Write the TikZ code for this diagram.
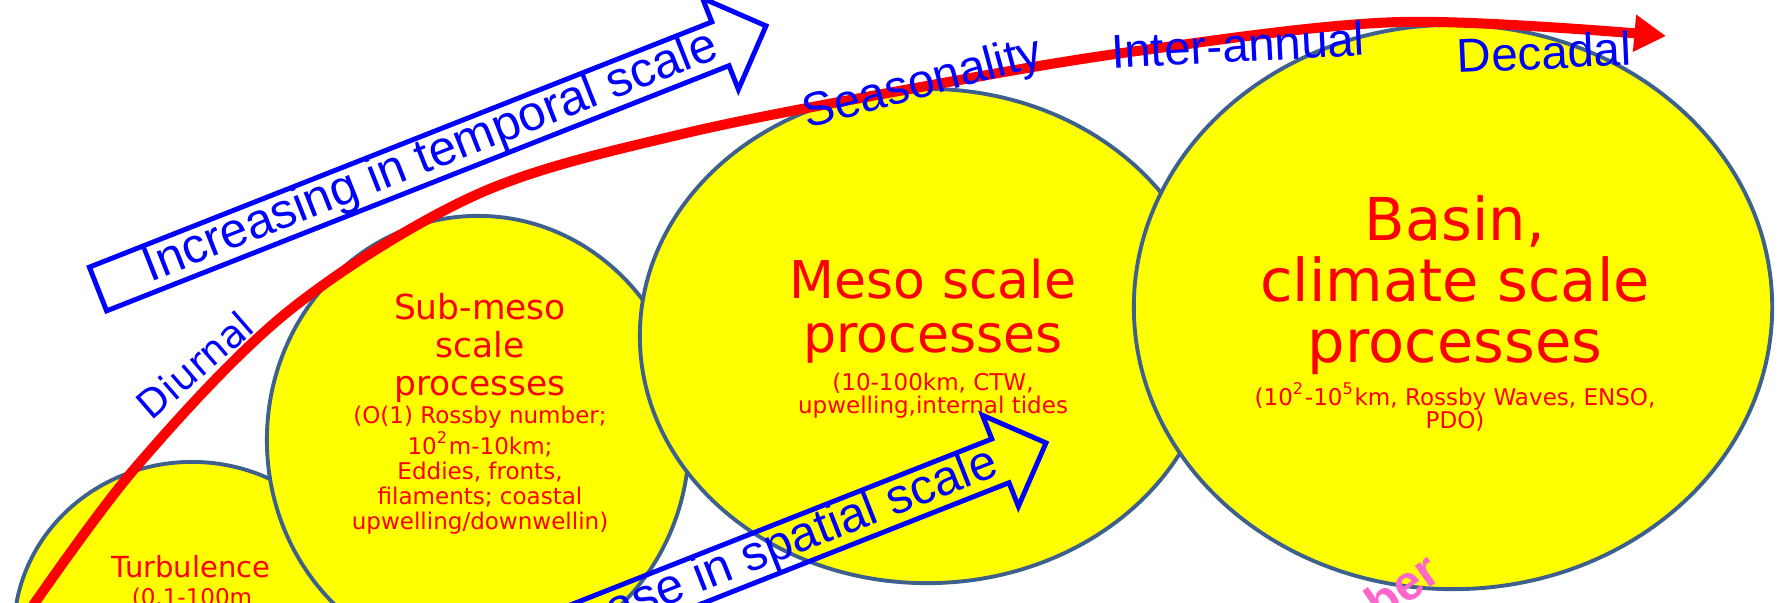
\documentclass[tikz,border=0pt]{standalone}
\usepackage{fontspec}
\setmainfont{Liberation Sans}
\newfontfamily\dejavu{DejaVu Sans}
\usetikzlibrary{arrows.meta,positioning,shapes.geometric}
\definecolor{ringblue}{RGB}{62,96,140}
\definecolor{bubbleyellow}{RGB}{255,255,0}
\definecolor{labelpink}{RGB}{255,102,204}

\begin{document}
\begin{tikzpicture}[x=0.01cm,y=0.01cm]
\tikzset{
  scalebubble/.style={ellipse,draw=ringblue,fill=bubbleyellow,line width=1.1pt,inner sep=0pt},
  scaletext/.style={text=red,align=center,inner sep=0pt},
  timeline/.style={draw=red,line width=2.85pt,-{Triangle[length=9pt,width=10pt]}},
  blockarrow/.style={draw=blue,line width=1.4pt},
  arrowtext/.style={text=blue,font=\fontsize{14}{16}\selectfont,inner sep=0pt,anchor=east,rotate=21.5},
  periodlabel/.style={text=blue,font=\fontsize{13.5}{15}\selectfont,inner sep=0pt}
}
\useasboundingbox (0,0) rectangle (1783,602);
\clip (0,0) rectangle (1783,602);
\fill[white] (0,0) rectangle (1783,602);
% scale bubbles
\node[scalebubble,minimum width=3.56cm,minimum height=3.40cm] (n_turb) at (192,-30) {};
\node[scalebubble,minimum width=4.22cm,minimum height=4.48cm] (n_submeso) at (478,162) {};
\node[scalebubble,minimum width=5.74cm,minimum height=4.94cm] (n_meso) at (927,266) {};
\node[scalebubble,minimum width=6.38cm,minimum height=5.64cm] (n_basin) at (1453,295) {};
% process names
\node[scaletext,font=\dejavu\fontsize{8.25}{9}\selectfont,anchor=base] (t_turb) at (191,25) {Turbulence};
\node[scaletext,font=\dejavu\fontsize{6.55}{7.1}\selectfont,anchor=base] (s_turb) at (192,-3) {(0.1-100m};
\node[scaletext,font=\dejavu\fontsize{9.8}{10.8}\selectfont] (t_submeso) at (480,254) {Sub-meso\\scale\\processes};
\node[scaletext,font=\dejavu\fontsize{6.55}{7.1}\selectfont] (s_submeso) at (480,132) {(O(1) Rossby number;\\10\textsuperscript{2}m-10km;\\Eddies, fronts,\\filaments; coastal\\upwelling/downwellin)};
\node[scaletext,font=\dejavu\fontsize{14.8}{15.4}\selectfont] (t_meso) at (933,291) {Meso scale\\processes};
\node[scaletext,font=\dejavu\fontsize{6.55}{6.6}\selectfont] (s_meso) at (933,206) {(10-100km, CTW,\\upwelling,internal tides};
\node[scaletext,font=\dejavu\fontsize{16.8}{17.4}\selectfont] (t_basin) at (1455,317) {Basin,\\climate scale\\processes};
\node[scaletext,font=\dejavu\fontsize{6.55}{6.6}\selectfont] (s_basin) at (1455,195) {(10\textsuperscript{2}-10\textsuperscript{5}km, Rossby Waves, ENSO,\\PDO)};
% scale arrows
\begin{scope}[shift={(98,313)},rotate=21.5]
\draw[blockarrow] (0,23.5) -- (669,23.5) -- (669,49) -- (718,0) -- (669,-49) -- (669,-23.5) -- (0,-23.5) -- cycle;
\coordinate (a_temporal) at (665,0);
\end{scope}
\node[arrowtext] (l_temporal) at (a_temporal) {Increasing in temporal scale};
\begin{scope}[shift={(378,-104)},rotate=21.5]
\draw[blockarrow] (0,23.5) -- (669,23.5) -- (669,49) -- (718,0) -- (669,-49) -- (669,-23.5) -- (0,-23.5) -- cycle;
\coordinate (a_spatial) at (665,0);
\end{scope}
\node[arrowtext] (l_spatial) at (a_spatial) {Increase in spatial scale};
% time line
\coordinate (c0) at (23,-18);
\coordinate (c1) at (136,135);
\coordinate (c2) at (290,292);
\coordinate (c3) at (478,408);
\coordinate (c4) at (682,468);
\coordinate (c5) at (932,517);
\coordinate (c6) at (1137,551);
\coordinate (c7) at (1400,580);
\coordinate (c8) at (1666,566);
\draw[timeline] plot[smooth,tension=0.55] coordinates {(c0) (c1) (c2) (c3) (c4) (c5) (c6) (c7) (c8)};
% periods
\node[periodlabel,font=\dejavu\fontsize{11}{13}\selectfont,rotate=41] (l_diurnal) at (195,237) {Diurnal};
\node[periodlabel,rotate=15] (l_season) at (923,517) {Seasonality};
\node[periodlabel,rotate=3] (l_interannual) at (1238,557) {Inter-annual};
\node[periodlabel,rotate=2.5] (l_decadal) at (1544,550) {Decadal};
\node[text=labelpink,font=\bfseries\fontsize{14}{16}\selectfont,rotate=35,anchor=base east,inner sep=0pt] (l_number) at (1444,24) {number};
\end{tikzpicture}
\end{document}
